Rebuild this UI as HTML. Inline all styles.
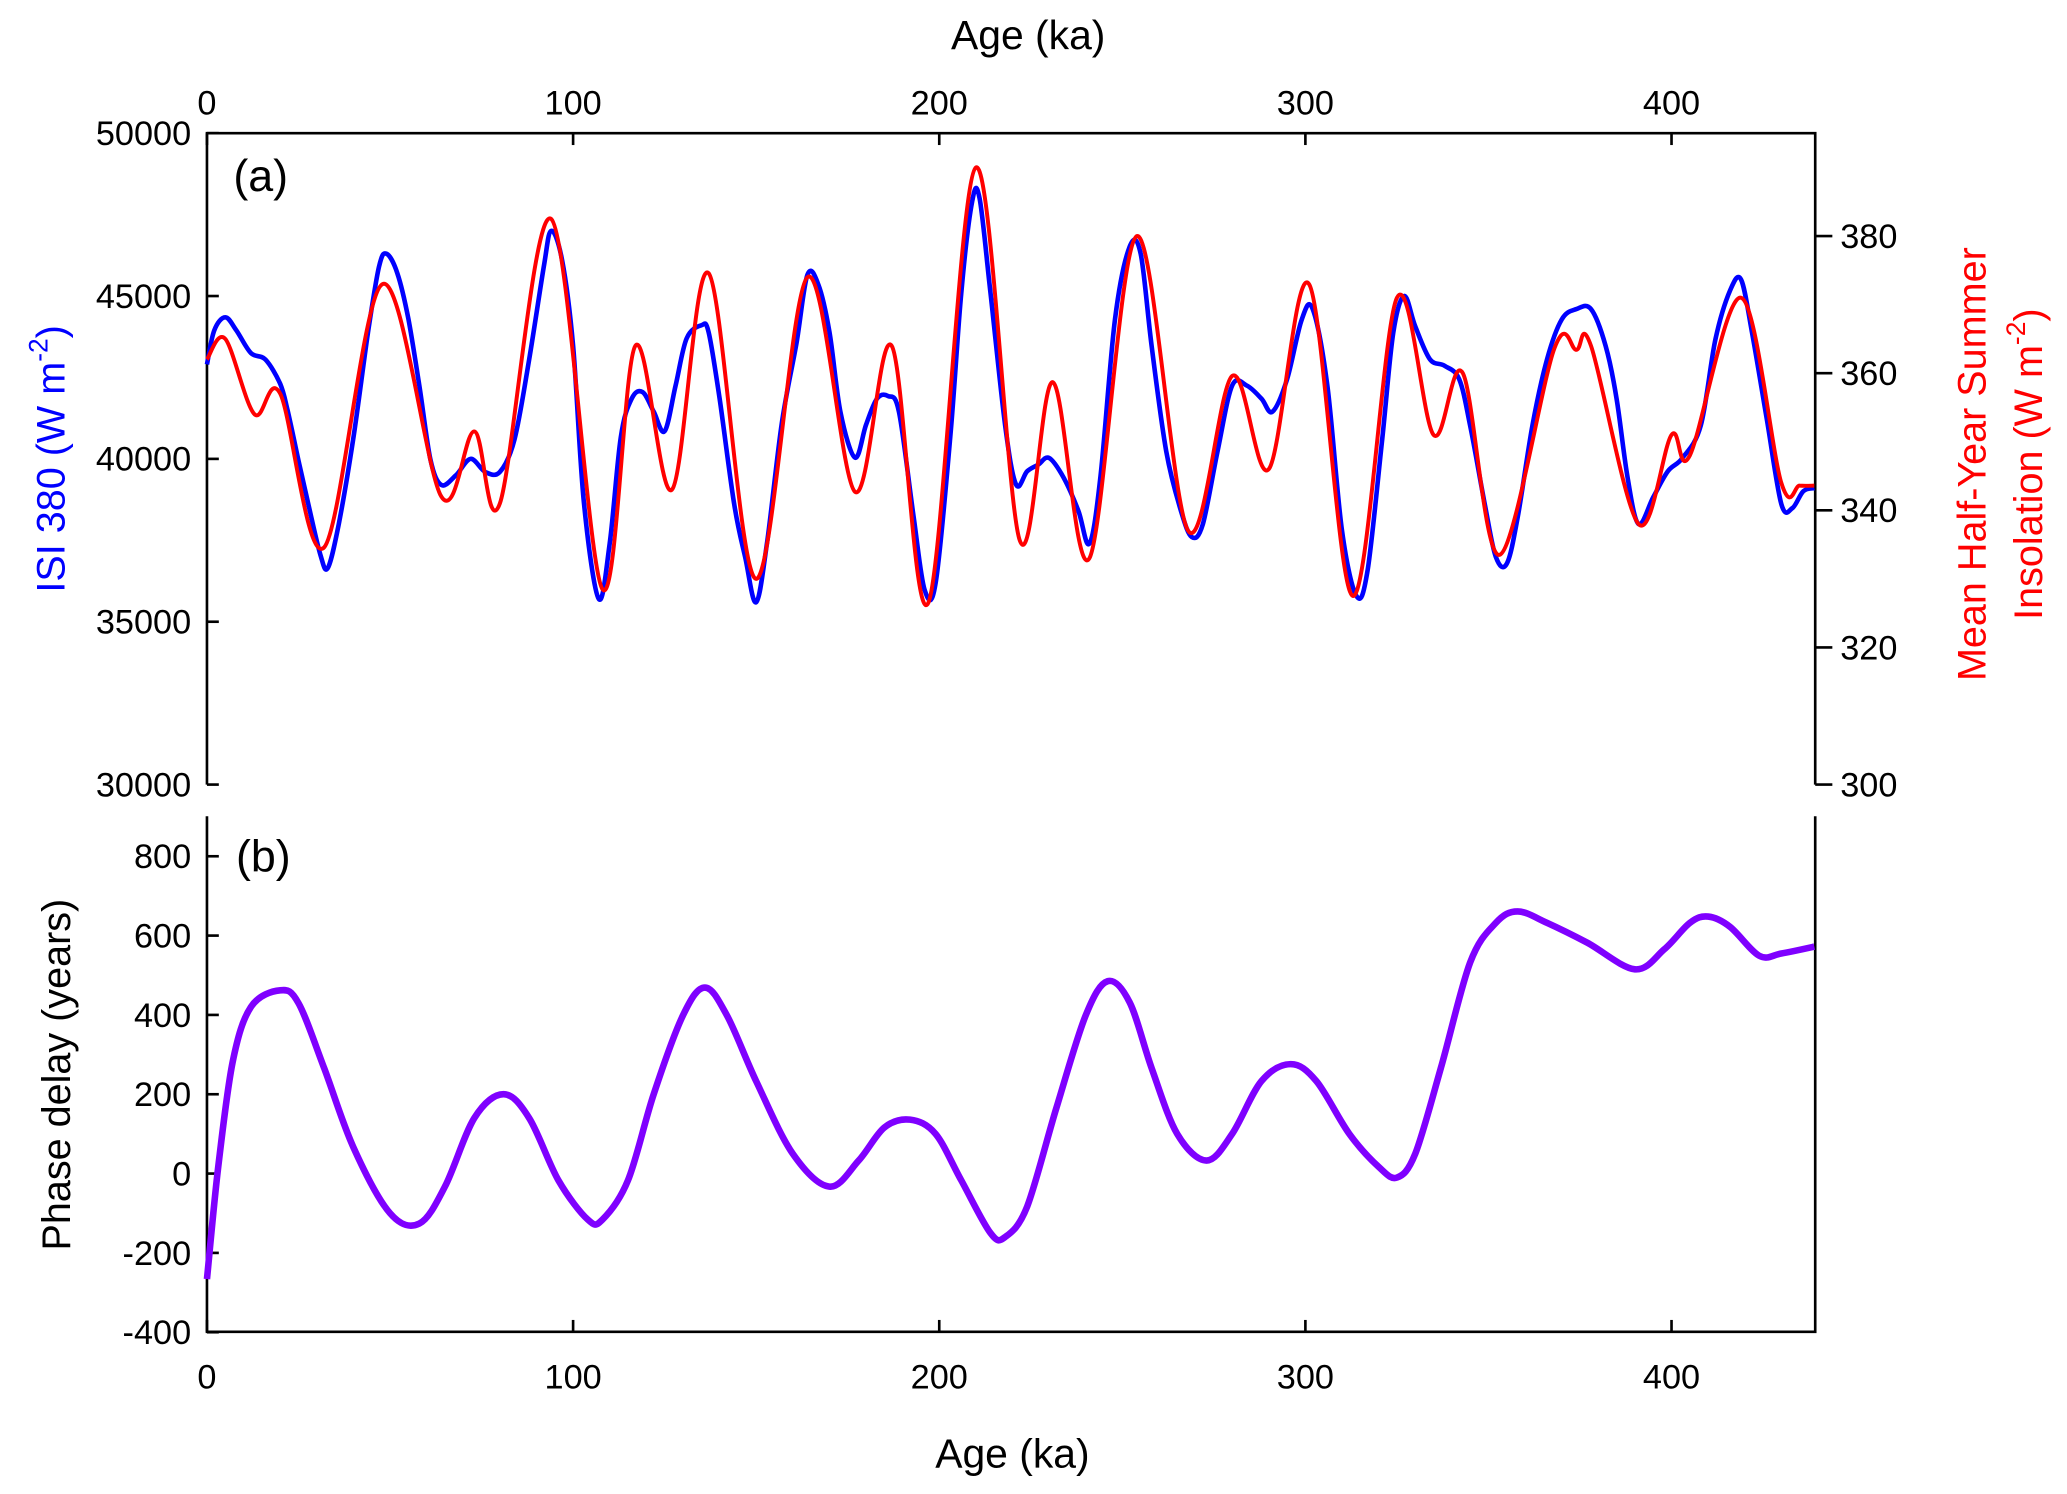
<!DOCTYPE html>
<html><head><meta charset="utf-8">
<style>
html,body{margin:0;padding:0;background:#fff;}
svg{display:block;font-family:"Liberation Sans",Arial,sans-serif;}
</style></head>
<body>
<svg id="chart" width="2067" height="1494" viewBox="0 0 1568 1133" preserveAspectRatio="none" xmlns="http://www.w3.org/2000/svg">
<g id="axes"></g>
<g id="marks"></g>
<text x="780" y="37" font-size="31" text-anchor="middle">Age (ka)</text>
<text x="768" y="1113" font-size="31" text-anchor="middle">Age (ka)</text>
<text x="177" y="145" font-size="34">(a)</text>
<text x="179" y="661" font-size="34">(b)</text>
<text transform="translate(49,348) rotate(-90)" font-size="30" fill="#0000ff" text-anchor="middle">ISI 380 (W m<tspan dy="-13" font-size="20">-2</tspan><tspan dy="13">)</tspan></text>
<text transform="translate(1506,352) rotate(-90)" font-size="30" fill="#ff0000" text-anchor="middle">Mean Half-Year Summer</text>
<text transform="translate(1549,352) rotate(-90)" font-size="30" fill="#ff0000" text-anchor="middle">Insolation (W m<tspan dy="-13" font-size="20">-2</tspan><tspan dy="13">)</tspan></text>
<text transform="translate(53,815) rotate(-90)" font-size="30" text-anchor="middle">Phase delay (years)</text>
</svg>
<script>
const redAge=[0,5,13,20,32,48,64,73,80,94,108,117,127,137,150,164,177,187,197,210,222,231,241,254,268,280,290,301,313,325,335,343,353,368,374,378,391,400,405,419,430,435,439];
const redVal=[362,365,354,357,334.6,373,342,351.5,341,382.5,328.5,364,343,374.6,330,374,342.7,364,326.5,390,335.6,358.7,333,380,337,359.6,346,373,327.5,371,351,360,333.5,363.6,363.4,364,338,351,348,371,344,343.6,343.6];
const blueAge=[0,2,5,8,12,16,20,22,25,28,31,33,36,40,44,47,49,52,55,58,61,64,68,72,76,80,84,88,92,94,97,100,103,107,110,113,116,119,122,125,128,131,135,137,140,144,147,150,153,157,161,164,167,170,173,177,180,183,186,189,193,196,199,203,206,209,211,214,218,221,224,227,230,234,238,241,244,248,252,255,258,262,266,269,272,276,280,284,288,291,295,299,302,306,310,314,317,321,324,327,330,334,338,342,345,349,352,355,358,362,366,370,374,378,382,385,388,391,395,399,403,408,412,416,419,422,426,430,433,436,439];
const blueVal=[42900,43950,44350,43950,43250,43050,42300,41500,39950,38450,37050,36650,38000,40650,43900,45900,46300,45700,44300,42250,40000,39200,39500,40000,39600,39600,40600,43050,45900,47000,46100,43450,38600,35700,37400,40650,41850,42050,41450,40850,42250,43700,44100,43900,41850,38600,36980,35600,37460,41100,43550,45650,45350,43900,41450,40040,41050,41850,41930,41450,38210,35980,36180,40650,45090,47910,48000,45090,41030,39210,39620,39820,40030,39420,38410,37400,39420,44280,46510,46300,43470,40230,38410,37600,38000,40230,42250,42250,41850,41450,42450,44280,44600,42250,37800,35780,36590,40630,43870,45000,44070,43060,42860,42450,41030,38610,36990,36780,38210,41030,43060,44280,44600,44600,43470,41850,39420,38000,38820,39620,40030,41030,43670,45170,45500,43870,41240,38610,38490,39010,39100];
const phaseAge=[0,3,7,12,20,25,32,40,50,58,65,73,81,88,96,104,108,115,122,130,136,142,150,160,170,178,185,192,199,206,214,218,224,232,240,246,252,258,265,273,280,288,296,303,312,320,325,330,337,345,352,358,366,377,390,398,405,410,416,424,430,439];
const phaseVal=[-266,10,280,420,462,430,266,66,-100,-126,-33,140,200,140,-17,-116,-116,-17,200,399,469,399,233,50,-33,33,116,136,100,-17,-150,-160,-83,166,399,485,432,266,100,33,100,233,276,233,100,17,-10,50,266,532,632,661,632,582,515,565,632,648,622,549,555,572];
const xTicks=[0,100,200,300,400];
const yTicksA=[30000,35000,40000,45000,50000];
const yTicksR=[300,320,340,360,380];
const yTicksB=[-400,-200,0,200,400,600,800];

const NS='http://www.w3.org/2000/svg';
const L=157,R=1377,AT=101,AB=595,BT=619,BB=1010;
const X=a=>L+a*(1268-157)/400;
const YA=v=>AB-(v-30000)*(AB-AT)/20000;
const YR=v=>AB-(v-300)*5.2;
const YB=v=>890-v*0.3008;
const axes=document.getElementById('axes'),marks=document.getElementById('marks');
function mk(tag,attrs,parent){const e=document.createElementNS(NS,tag);for(const k in attrs)e.setAttribute(k,attrs[k]);parent.appendChild(e);return e;}
function smooth(xs,ys){let d='M'+xs[0].toFixed(1)+','+ys[0].toFixed(1);
 for(let i=0;i<xs.length-1;i++){const x0=xs[Math.max(i-1,0)],y0=ys[Math.max(i-1,0)],x1=xs[i],y1=ys[i],x2=xs[i+1],y2=ys[i+1],x3=xs[Math.min(i+2,xs.length-1)],y3=ys[Math.min(i+2,xs.length-1)];
 d+=' C'+(x1+(x2-x0)/6).toFixed(1)+','+(y1+(y2-y0)/6).toFixed(1)+' '+(x2-(x3-x1)/6).toFixed(1)+','+(y2-(y3-y1)/6).toFixed(1)+' '+x2.toFixed(1)+','+y2.toFixed(1);}
 return d;}
let e;
e=mk('path',{d:`M${L},${AB} V${AT} H${R} V${AB}`,fill:'none',stroke:'#000','stroke-width':2},axes);


e=mk('path',{d:`M${L},${BT} V${BB} H${R} V${BT}`,fill:'none',stroke:'#000','stroke-width':2},axes);


xTicks.forEach(t=>{
 mk('line',{x1:X(t),x2:X(t),y1:AT,y2:AT+9,stroke:'#000','stroke-width':2},axes);
 mk('line',{x1:X(t),x2:X(t),y1:BB,y2:BB-9,stroke:'#000','stroke-width':2},axes);
 e=mk('text',{x:X(t),y:87,'font-size':26,'text-anchor':'middle'},axes);e.textContent=t;
 
 
 e=mk('text',{x:X(t),y:1053,'font-size':26,'text-anchor':'middle'},axes);e.textContent=t;
 
 
});
yTicksA.forEach(t=>{
 mk('line',{x1:L,x2:L+9,y1:YA(t),y2:YA(t),stroke:'#000','stroke-width':2},axes);
 e=mk('text',{x:145,y:YA(t)+9,'font-size':26,'text-anchor':'end'},axes);e.textContent=t;
 
 
});
yTicksR.forEach(t=>{
 mk('line',{x1:R,x2:R+13,y1:YR(t),y2:YR(t),stroke:'#000','stroke-width':2},axes);
 e=mk('text',{x:1396,y:YR(t)+9,'font-size':26},axes);e.textContent=t;
 
 
});
yTicksB.forEach(t=>{
 mk('line',{x1:L,x2:L+9,y1:YB(t),y2:YB(t),stroke:'#000','stroke-width':2},axes);
 e=mk('text',{x:145,y:YB(t)+9,'font-size':26,'text-anchor':'end'},axes);e.textContent=t;
 
 
});
e=mk('path',{d:smooth(blueAge.map(X),blueVal.map(YA)),fill:'none',stroke:'#0000ff','stroke-width':3.5},marks);


e=mk('path',{d:smooth(redAge.map(X),redVal.map(YR)),fill:'none',stroke:'#ff0000','stroke-width':3},marks);


e=mk('path',{d:smooth(phaseAge.map(X),phaseVal.map(YB)),fill:'none',stroke:'#7f00ff','stroke-width':5},marks);


</script>
</body></html>
